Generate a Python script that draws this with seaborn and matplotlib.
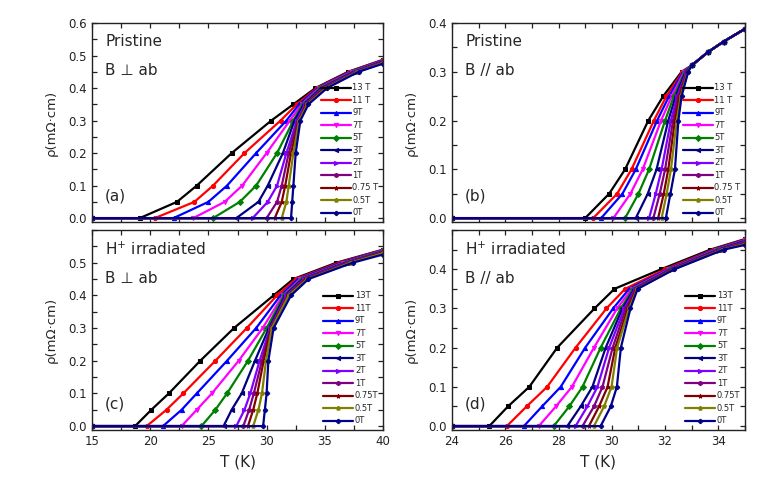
import matplotlib
matplotlib.use('Agg')
import matplotlib.pyplot as plt
import seaborn as sns
import pandas as pd
from matplotlib.ticker import MultipleLocator

# 图例标签和样式
FIELDS_TOP = ['13 T', '11 T', '9T', '7T', '5T', '3T', '2T', '1T', '0.75 T', '0.5T', '0T']
FIELDS_BOTTOM = ['13T', '11T', '9T', '7T', '5T', '3T', '2T', '1T', '0.75T', '0.5T', '0T']
COLORS = ['#000000', '#ff0000', '#0000ff', '#ff00ff', '#008000', '#000080',
          '#8000ff', '#800080', '#800000', '#808000', '#00008b']
MARKERS = ['s', 'o', '^', 'v', 'D', '<', '>', 'h', '*', 'p', 'P']

# (a) Pristine, B ⊥ ab : 各电阻率水平对应的温度
A_LEVELS = [0.0, 0.05, 0.1, 0.2, 0.3, 0.35, 0.4, 0.45]
A_T = [
    [19.1, 22.3, 24.0, 27.0, 30.4, 32.3, 34.2, 37.0],
    [20.4, 23.8, 25.4, 28.1, 31.2, 32.6, 34.3, 37.1],
    [22.0, 25.0, 26.6, 29.1, 31.7, 32.8, 34.4, 37.2],
    [23.7, 26.4, 27.9, 30.0, 32.0, 33.0, 34.5, 37.3],
    [25.4, 27.7, 29.1, 30.9, 32.3, 33.1, 34.6, 37.4],
    [27.4, 29.3, 30.1, 31.4, 32.4, 33.2, 34.7, 37.5],
    [28.8, 30.1, 30.9, 31.7, 32.6, 33.3, 34.8, 37.6],
    [30.0, 30.9, 31.3, 31.9, 32.7, 33.4, 34.9, 37.7],
    [30.7, 31.3, 31.6, 32.1, 32.8, 33.4, 35.0, 37.8],
    [31.3, 31.7, 31.9, 32.3, 32.8, 33.5, 35.1, 37.8],
    [32.1, 32.2, 32.3, 32.5, 32.9, 33.6, 35.2, 37.9],
]
A_END = [0.487, 0.486, 0.485, 0.484, 0.483, 0.482, 0.481, 0.480, 0.478, 0.477, 0.475]

# (b) Pristine, B // ab
B_LEVELS = [0.0, 0.05, 0.1, 0.2, 0.25, 0.3]
B_T = [
    [29.0, 29.9, 30.5, 31.37, 31.93, 32.62],
    [29.3, 30.2, 30.74, 31.58, 32.05, 32.65],
    [29.6, 30.4, 30.9, 31.7, 32.15, 32.68],
    [30.06, 30.7, 31.16, 31.85, 32.25, 32.71],
    [30.5, 31.0, 31.4, 32.0, 32.33, 32.74],
    [30.9, 31.35, 31.68, 32.12, 32.4, 32.77],
    [31.4, 31.65, 31.87, 32.22, 32.46, 32.8],
    [31.56, 31.8, 32.0, 32.3, 32.5, 32.82],
    [31.74, 31.95, 32.12, 32.37, 32.55, 32.84],
    [31.87, 32.06, 32.22, 32.44, 32.59, 32.85],
    [32.03, 32.2, 32.37, 32.5, 32.62, 32.87],
]
B_TAIL_T = [33.0, 33.6, 34.2, 35.0]
B_TAIL_RHO = [0.313, 0.34, 0.362, 0.388]

# (c) H+ irradiated, B ⊥ ab
C_LEVELS = [0.0, 0.05, 0.1, 0.2, 0.3, 0.4, 0.45, 0.5]
C_T = [
    [18.7, 20.1, 21.6, 24.3, 27.2, 30.6, 32.3, 36.0],
    [19.7, 21.4, 22.84, 25.6, 28.3, 30.9, 32.5, 36.2],
    [21.1, 22.7, 24.0, 26.6, 29.1, 31.2, 32.7, 36.4],
    [22.7, 24.0, 25.3, 27.6, 29.66, 31.4, 32.9, 36.6],
    [24.4, 25.6, 26.6, 28.4, 30.0, 31.5, 33.0, 36.7],
    [26.3, 27.0, 27.86, 29.0, 30.2, 31.6, 33.1, 36.8],
    [27.4, 28.1, 28.6, 29.4, 30.3, 31.7, 33.2, 36.9],
    [28.0, 28.5, 28.9, 29.6, 30.35, 31.8, 33.3, 37.0],
    [28.4, 28.85, 29.2, 29.75, 30.4, 31.85, 33.4, 37.1],
    [28.85, 29.3, 29.6, 29.95, 30.45, 31.9, 33.5, 37.2],
    [29.7, 29.85, 30.0, 30.15, 30.6, 32.1, 33.6, 37.4],
]
C_END = [0.54, 0.539, 0.538, 0.537, 0.536, 0.534, 0.533, 0.532, 0.531, 0.529, 0.525]

# (d) H+ irradiated, B // ab
D_LEVELS = [0.0, 0.05, 0.1, 0.2, 0.3, 0.35, 0.4, 0.45]
D_T = [
    [25.4, 26.1, 26.9, 27.95, 29.35, 30.1, 31.85, 33.7],
    [26.06, 26.8, 27.57, 28.64, 29.8, 30.5, 32.0, 33.8],
    [26.7, 27.38, 28.08, 29.0, 30.05, 30.65, 32.1, 33.85],
    [27.26, 27.9, 28.5, 29.33, 30.2, 30.75, 32.15, 33.9],
    [27.82, 28.4, 28.9, 29.58, 30.34, 30.8, 32.2, 33.95],
    [28.33, 28.83, 29.27, 29.77, 30.4, 30.85, 32.22, 34.0],
    [28.64, 29.08, 29.46, 29.9, 30.47, 30.88, 32.25, 34.05],
    [28.9, 29.33, 29.65, 30.03, 30.53, 30.9, 32.28, 34.1],
    [29.14, 29.52, 29.84, 30.13, 30.6, 30.93, 32.3, 34.12],
    [29.33, 29.71, 29.99, 30.2, 30.65, 30.95, 32.33, 34.15],
    [29.58, 29.96, 30.19, 30.34, 30.7, 30.97, 32.35, 34.2],
]
D_END = [0.477, 0.476, 0.475, 0.474, 0.473, 0.472, 0.470, 0.468, 0.466, 0.464, 0.462]


def build(levels, t_table, x0, tail_t, tail_rho, labels):
    rows = []
    for i, lab in enumerate(labels):
        ts = [x0] + t_table[i] + tail_t
        rs = [0.0] + levels + tail_rho[i]
        for t, r in zip(ts, rs):
            rows.append({'T': t, 'rho': r, 'field': lab})
    return pd.DataFrame(rows)


sns.set_style('ticks')
plt.rcParams['font.family'] = ['DejaVu Sans']
plt.rcParams['xtick.direction'] = 'in'
plt.rcParams['ytick.direction'] = 'in'

fig = plt.figure(figsize=(7.8, 4.95), dpi=100)
axa = fig.add_axes([0.118, 0.5515, 0.373, 0.402])
axc = fig.add_axes([0.118, 0.1313, 0.373, 0.404])
axb = fig.add_axes([0.5795, 0.5515, 0.3756, 0.402])
axd = fig.add_axes([0.5795, 0.1313, 0.3756, 0.404])

panels = [
    (axa, build(A_LEVELS, A_T, 15, [40], [[v] for v in A_END], FIELDS_TOP), FIELDS_TOP,
     (15, 40), (-0.012, 0.6), [0, 0.1, 0.2, 0.3, 0.4, 0.5, 0.6], 5, 2.5,
     'Pristine', 'B \u22a5 ab', '(a)', False),
    (axb, build(B_LEVELS, B_T, 24, B_TAIL_T, [B_TAIL_RHO] * 11, FIELDS_TOP), FIELDS_TOP,
     (24, 35), (-0.008, 0.4), [0, 0.1, 0.2, 0.3, 0.4], 2, 1,
     'Pristine', 'B // ab', '(b)', False),
    (axc, build(C_LEVELS, C_T, 15, [40], [[v] for v in C_END], FIELDS_BOTTOM), FIELDS_BOTTOM,
     (15, 40), (-0.012, 0.6), [0, 0.1, 0.2, 0.3, 0.4, 0.5], 5, 2.5,
     r'H$^{+}$ irradiated', 'B \u22a5 ab', '(c)', True),
    (axd, build(D_LEVELS, D_T, 24, [35], [[v] for v in D_END], FIELDS_BOTTOM), FIELDS_BOTTOM,
     (24, 35), (-0.01, 0.5), [0, 0.1, 0.2, 0.3, 0.4], 2, 1,
     r'H$^{+}$ irradiated', 'B // ab', '(d)', True),
]

for ax, df, labels, xlim, ylim, yt, xmaj, xmin, t1, t2, tag, bottom in panels:
    sns.lineplot(data=df, x='T', y='rho', hue='field', style='field',
                 hue_order=labels, style_order=labels,
                 palette=dict(zip(labels, COLORS)), markers=dict(zip(labels, MARKERS)),
                 dashes=False, estimator=None, sort=False,
                 linewidth=1.6, markersize=3, ax=ax)
    for ln in ax.lines:
        ln.set_markeredgecolor(ln.get_color())
    ax.set_xlim(*xlim)
    ax.set_ylim(*ylim)
    ax.set_yticks(yt)
    ax.set_yticklabels(['%.1f' % v for v in yt])
    ax.yaxis.set_minor_locator(MultipleLocator(0.05))
    ax.xaxis.set_major_locator(MultipleLocator(xmaj))
    ax.xaxis.set_minor_locator(MultipleLocator(xmin))
    ax.tick_params(which='both', top=True, right=True, labelsize=8.5, length=3.5,
                   width=0.9, colors='#222222')
    if bottom:
        ax.set_xlabel('T (K)', fontsize=11, labelpad=5)
    else:
        ax.set_xlabel('')
        ax.tick_params(labelbottom=False)
    ax.set_ylabel('\u03c1(m\u03a9\u00b7cm)', fontsize=9.5, labelpad=8)
    for s in ax.spines.values():
        s.set_linewidth(1.0)
        s.set_color('#222222')
    ax.text(0.045, 0.905, t1, transform=ax.transAxes, fontsize=11, va='center')
    ax.text(0.045, 0.76, t2, transform=ax.transAxes, fontsize=11, va='center')
    ax.text(0.045, 0.13, tag, transform=ax.transAxes, fontsize=11, va='center')
    h, l = ax.get_legend_handles_labels()
    for hd in h:
        hd.set_markeredgecolor(hd.get_color())
    ax.legend(h, l, loc='lower right', frameon=False, fontsize=6,
              handlelength=3.6, handletextpad=0.2, labelspacing=0.42,
              borderaxespad=0.15, bbox_to_anchor=(1.0, 0.0))

fig.savefig('out.png', dpi=100, facecolor='white')
